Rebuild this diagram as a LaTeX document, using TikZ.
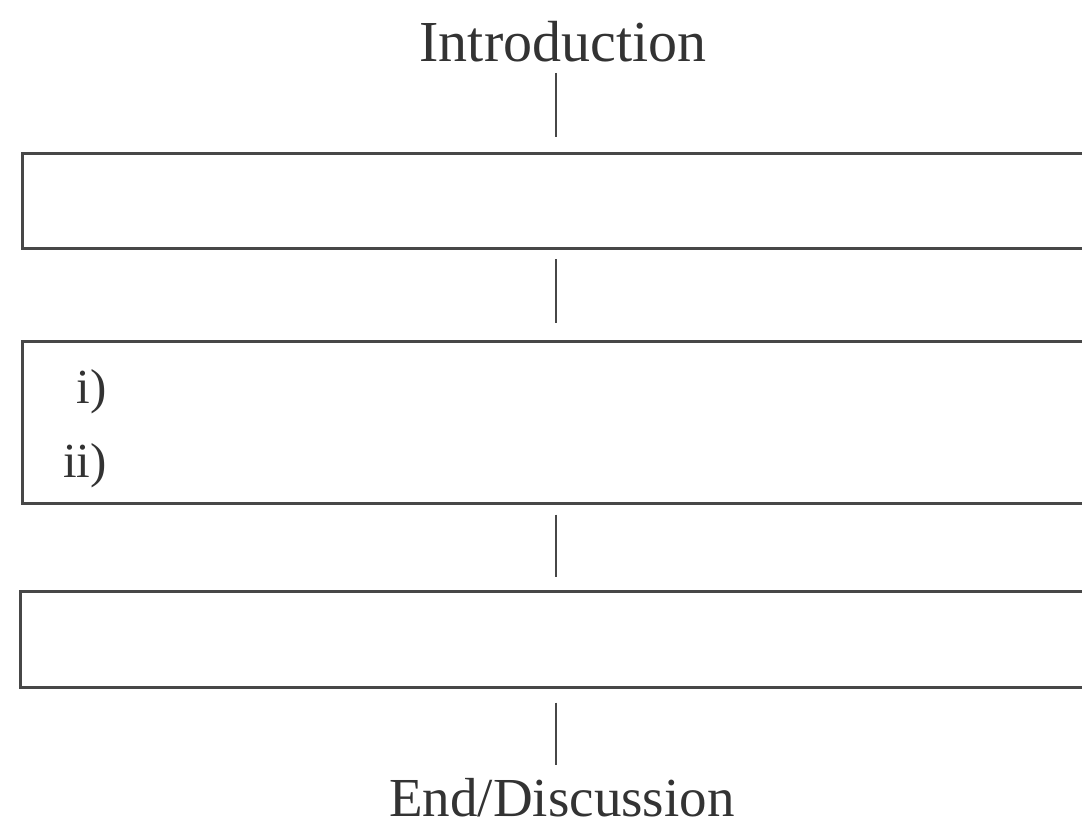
\documentclass[tikz,border=0pt]{standalone}
\usepackage{fontspec}
\setmainfont{Liberation Serif}
\begin{document}
\begin{tikzpicture}[x=1pt,y=-1pt,
  frame/.style={draw=black!72, line width=3pt, rectangle, inner sep=0pt},
  conn/.style={draw=black!72, line width=2.6pt},
  label/.style={text=black!80, inner sep=0pt, font=\fontsize{58}{64}\selectfont},
  item/.style={text=black!80, inner sep=0pt, font=\fontsize{49}{54}\selectfont}]
\useasboundingbox (0,0) rectangle (1082,826);
\clip (0,0) rectangle (1082,826);
\coordinate (cx) at (556,0);
\node[label, anchor=base] (intro) at (563,62) {Introduction};
\node[frame, minimum width=1078pt, minimum height=95pt] (b1) at (561,201.5) {};
\node[frame, minimum width=1078pt, minimum height=161pt] (b2) at (561,422.5) {};
\node[frame, minimum width=1080pt, minimum height=96pt] (b3) at (560,639) {};
\node[item, anchor=base east] (i1) at (107,403) {i)};
\node[item, anchor=base east] (i2) at (107,477) {ii)};
\node[label, anchor=base, font=\fontsize{55}{60}\selectfont] (end) at (562,816) {End/Discussion};
\draw[conn] (cx |- 0,73) -- (cx |- 0,137);
\draw[conn, shorten <=9pt, shorten >=17pt] (b1.south -| cx) -- (b2.north -| cx);
\draw[conn, shorten <=10pt, shorten >=13pt] (b2.south -| cx) -- (b3.north -| cx);
\draw[conn, shorten <=14pt] (b3.south -| cx) -- (cx |- 0,765);
\end{tikzpicture}
\end{document}
